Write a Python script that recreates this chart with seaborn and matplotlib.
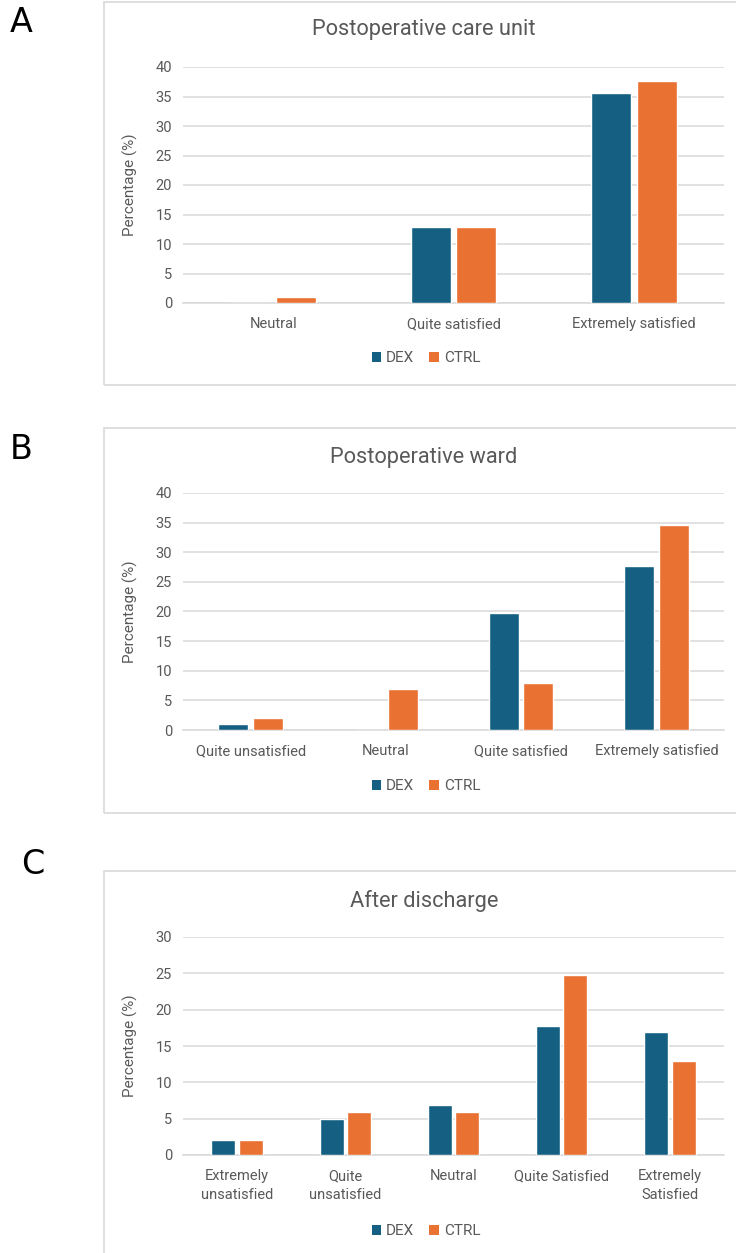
import matplotlib
matplotlib.use("Agg")
import matplotlib.pyplot as plt
from matplotlib import font_manager as fm
from matplotlib.patches import Rectangle, Patch
import seaborn as sns
import pandas as pd

# ---------------- data ----------------
groups = ["DEX", "CTRL"]

a_title = "Postoperative care unit"
a_cats = ["Neutral", "Quite satisfied", "Extremely satisfied"]
a_dex = [0, 12.8, 35.6]
a_ctrl = [1, 12.8, 37.6]

b_title = "Postoperative ward"
b_cats = ["Quite unsatisfied", "Neutral", "Quite satisfied", "Extremely satisfied"]
b_dex = [1, 0, 19.8, 27.6]
b_ctrl = [2, 6.9, 7.9, 34.6]

c_title = "After discharge"
c_cats = ["Extremely\nunsatisfied", "Quite\nunsatisfied", "Neutral", "Quite Satisfied", "Extremely\nSatisfied"]
c_dex = [2, 5, 6.9, 17.8, 16.9]
c_ctrl = [2, 5.9, 5.9, 24.8, 12.9]

y_label = "Percentage (%)"
panel_letters = ["A", "B", "C"]

# ---------------- style ----------------
sns.set_theme(style="white")
names = {f.name for f in fm.fontManager.ttflist}
main_font = "Liberation Sans Narrow" if "Liberation Sans Narrow" in names else "Roboto"
plt.rcParams["font.family"] = [main_font, "DejaVu Sans"]

TXT = "#595959"
GRID = "#D9D9D9"
palette = {"DEX": "#156082", "CTRL": "#E97132"}

W, H = 736, 1253
fig = plt.figure(figsize=(W / 100, H / 100), dpi=100)


def fx(px):
    return px / W


def fy(py):
    return 1 - py / H


def panel(cats, dex, ctrl, title, ymax, box, ax_px, title_y, legend_y, letter_xy):
    # box (chart area)
    bx0, by0, bx1, by1 = box
    fig.patches.append(Rectangle((fx(bx0), fy(by1)), fx(bx1 - bx0), (by1 - by0) / H,
                                 transform=fig.transFigure, fill=False,
                                 edgecolor=GRID, linewidth=1.2, zorder=0))
    x0, ytop, x1, ybot = ax_px
    ax = fig.add_axes([fx(x0), fy(ybot), fx(x1 - x0), (ybot - ytop) / H])
    df = pd.DataFrame({
        "cat": cats * 2,
        "grp": [groups[0]] * len(cats) + [groups[1]] * len(cats),
        "val": list(dex) + list(ctrl),
    })
    sns.barplot(data=df, x="cat", y="val", hue="grp", hue_order=groups,
                order=cats, palette=palette, width=0.51, gap=0.13,
                saturation=1, ax=ax, legend=False, zorder=3)
    ax.set_ylim(0, ymax)
    ax.set_xlim(-0.5, len(cats) - 0.5)
    ax.set_yticks(range(0, ymax + 1, 5))
    ax.grid(axis="y", color=GRID, linewidth=1.1, zorder=0)
    ax.set_axisbelow(True)
    for s in ["top", "right", "left"]:
        ax.spines[s].set_visible(False)
    ax.spines["bottom"].set_color(GRID)
    ax.spines["bottom"].set_linewidth(1.1)
    ax.tick_params(axis="both", length=0, labelsize=10.5, colors=TXT)
    ax.tick_params(axis="x", pad=10)
    ax.tick_params(axis="y", pad=8)
    for lab in ax.get_xticklabels():
        lab.set_linespacing(1.5)
    ax.set_xlabel("")
    ax.set_ylabel(y_label, fontsize=11, color=TXT)
    ax.yaxis.set_label_coords(-45 / (x1 - x0), 0.5)
    fig.text(fx(424), fy(title_y), title, ha="center", va="center",
             fontsize=15.7, color=TXT)
    handles = [Patch(facecolor=palette[g], edgecolor="none", label=g) for g in groups]
    ax.legend(handles=handles, loc="center", ncol=2, frameon=False,
              bbox_to_anchor=(fx(426), fy(legend_y)), bbox_transform=fig.transFigure,
              handlelength=0.65, handleheight=0.65, handletextpad=0.3,
              columnspacing=1.0, fontsize=11, labelcolor=TXT)
    fig.text(fx(letter_xy[0]), fy(letter_xy[1]), letter_xy[2], ha="center",
             va="center", fontsize=24, color="black", family="DejaVu Sans")
    return ax


panel(a_cats, a_dex, a_ctrl, a_title, 40, (104, 2, 760, 385),
      (183, 67, 724, 303), 30, 358, (21, 23, panel_letters[0]))
panel(b_cats, b_dex, b_ctrl, b_title, 40, (104, 428, 760, 813),
      (183, 493, 724, 730), 457, 786, (21, 449, panel_letters[1]))
panel(c_cats, c_dex, c_ctrl, c_title, 30, (104, 871, 760, 1270),
      (183, 937, 724, 1155), 901, 1231, (33, 865, panel_letters[2]))

fig.savefig("out.png", dpi=100)
